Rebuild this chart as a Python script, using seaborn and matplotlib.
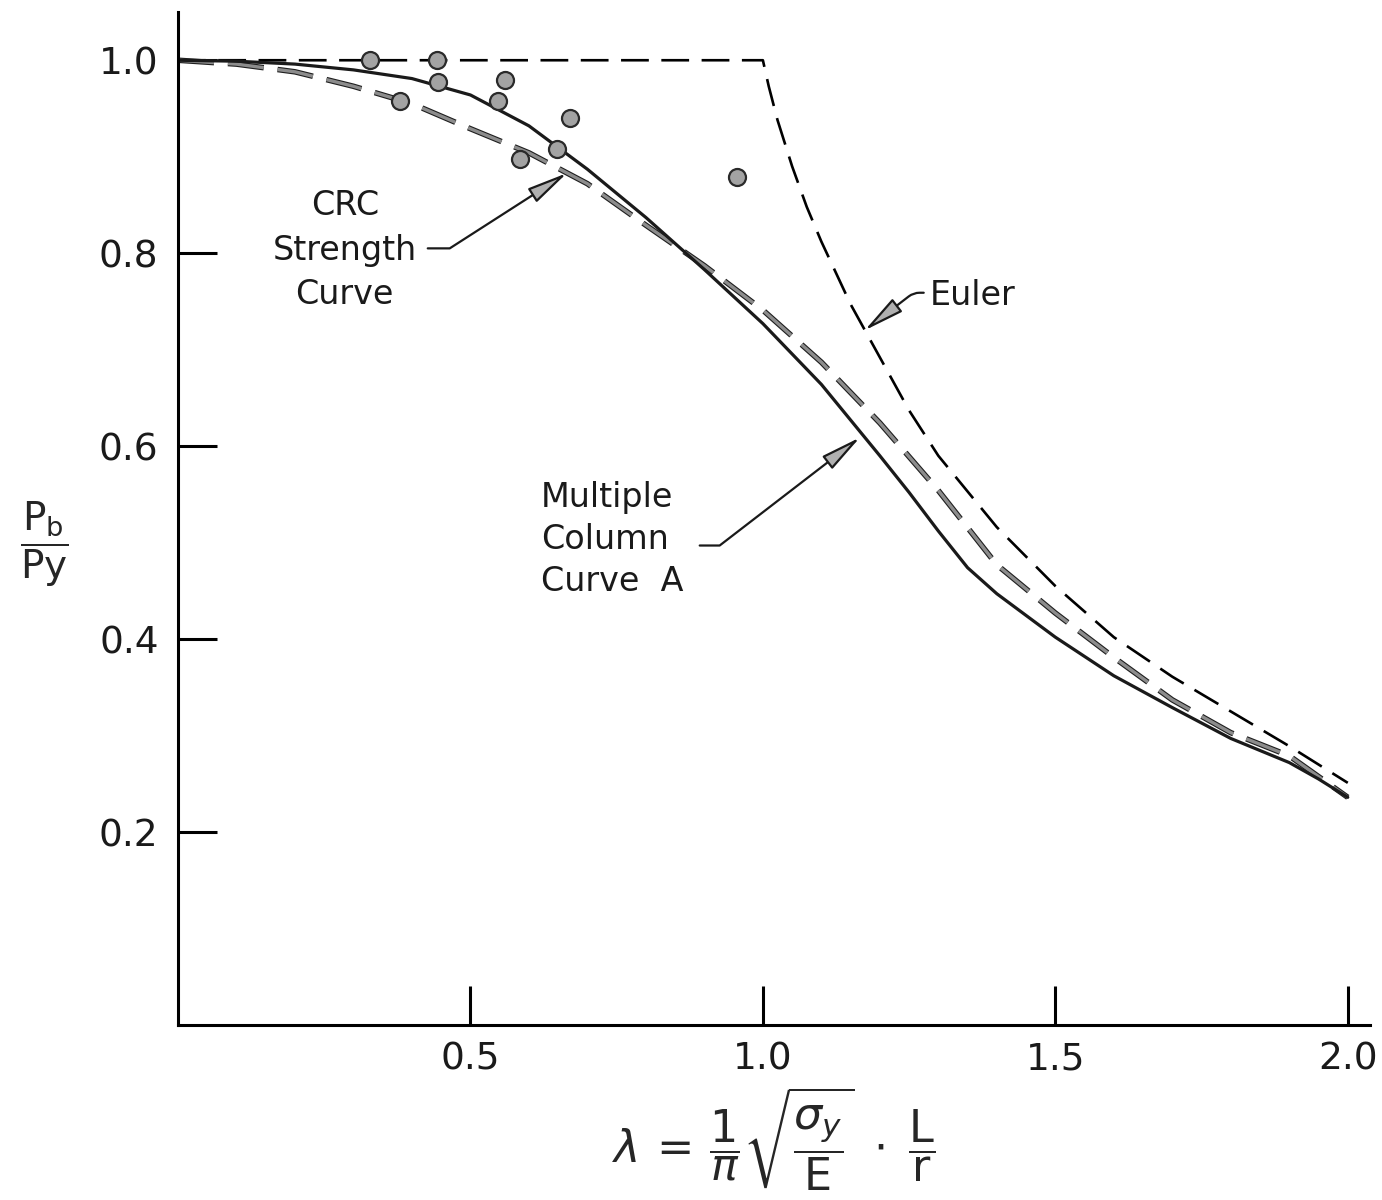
import matplotlib
matplotlib.use('Agg')
import matplotlib.pyplot as plt
import matplotlib.patheffects as pe
import numpy as np
import pandas as pd
import seaborn as sns

# ---- data ----
euler_lambda = [0.0, 1.0, 1.01, 1.025, 1.05, 1.075, 1.1, 1.15, 1.2, 1.25, 1.3, 1.4, 1.5, 1.6, 1.7, 1.8, 1.9, 2.0]
euler_ratio = [1.0, 1.0, 0.973, 0.938, 0.89, 0.848, 0.812, 0.747, 0.692, 0.637, 0.59, 0.516, 0.455, 0.402,
               0.361, 0.325, 0.289, 0.251]

crc_lambda = [0.0, 0.1, 0.2, 0.3, 0.4, 0.5, 0.6, 0.7, 0.8, 0.9, 1.0, 1.1, 1.2, 1.3, 1.4, 1.5, 1.6, 1.7, 1.8, 1.9, 2.0]
crc_ratio = [1.0, 0.996, 0.988, 0.973, 0.955, 0.929, 0.904, 0.872, 0.829, 0.787, 0.741, 0.687, 0.624, 0.554, 0.477,
             0.427, 0.381, 0.337, 0.303, 0.279, 0.236]

multi_lambda = [0.0, 0.1, 0.2, 0.3, 0.4, 0.5, 0.6, 0.7, 0.8, 0.9, 1.0, 1.1, 1.2, 1.25, 1.3, 1.35, 1.4, 1.5, 1.6,
                1.7, 1.8, 1.9, 1.95, 2.0]
multi_ratio = [1.0, 0.999, 0.996, 0.99, 0.981, 0.964, 0.932, 0.887, 0.837, 0.783, 0.727, 0.664, 0.590, 0.552,
               0.512, 0.474, 0.447, 0.402, 0.362, 0.329, 0.297, 0.272, 0.255, 0.236]

test_lambda = [0.328, 0.443, 0.444, 0.559, 0.547, 0.670, 0.648, 0.585, 0.379, 0.956]
test_ratio = [1.0, 1.0, 0.977, 0.979, 0.958, 0.940, 0.908, 0.898, 0.958, 0.879]

x_ticks = [0.5, 1.0, 1.5, 2.0]
x_ticklabels = ['0.5', '1.0', '1.5', '2.0']
y_ticks = [0.2, 0.4, 0.6, 0.8, 1.0]
y_ticklabels = ['0.2', '0.4', '0.6', '0.8', '1.0']

sns.set_theme(style='ticks')
plt.rcParams['font.family'] = ['DejaVu Sans']
plt.rcParams['mathtext.fontset'] = 'dejavusans'
plt.rcParams['lines.scale_dashes'] = False

fig = plt.figure(figsize=(13.82, 12), dpi=100)
ax = fig.add_axes([178 / 1382, 1 - 1025 / 1200, (1370 - 178) / 1382, (1025 - 12) / 1200])

# Euler curve
sns.lineplot(x=euler_lambda, y=euler_ratio, ax=ax, color='black', lw=1.9,
             linestyle=(0, (20, 9)), sort=False, estimator=None)

# CRC strength curve (long grey dashes with dark outline)
sns.lineplot(x=crc_lambda, y=crc_ratio, ax=ax, color='#8c8c8c', lw=2.4,
             linestyle=(0, (26, 10)), sort=False, estimator=None)
ax.lines[-1].set_path_effects([pe.Stroke(linewidth=4.0, foreground='#1e1e1e'), pe.Normal()])

# Multiple column curve A
sns.lineplot(x=multi_lambda, y=multi_ratio, ax=ax, color='#1a1a1a', lw=2.3,
             sort=False, estimator=None)

# test points
sns.scatterplot(x=test_lambda, y=test_ratio, ax=ax, s=150, color='#a3a3a3',
                edgecolor='#2a2a2a', linewidth=1.6, zorder=5)

ax.set_xlim(0, 2.038)
ax.set_ylim(0, 1.05)
ax.set_xticks(x_ticks)
ax.set_xticklabels(x_ticklabels)
ax.set_yticks(y_ticks)
ax.set_yticklabels(y_ticklabels)
ax.tick_params(axis='both', direction='in', length=28, width=2.2, color='black',
               labelsize=27, labelcolor='#1a1a1a', left=True, bottom=True,
               right=False, top=False)
ax.tick_params(axis='y', pad=14)
ax.tick_params(axis='x', pad=12)

for s in ['top', 'right']:
    ax.spines[s].set_visible(False)
for s in ['left', 'bottom']:
    ax.spines[s].set_color('black')
    ax.spines[s].set_linewidth(2.2)

ax.set_ylabel(r'$\dfrac{\mathrm{P}_{\mathrm{b}}}{\mathrm{Py}}$', rotation=0, fontsize=28,
              ha='center', va='center')
ax.yaxis.set_label_coords(-0.1124, 0.474)

ax.set_xlabel(r'$\lambda\,=\,\dfrac{1}{\pi}\sqrt{\dfrac{\sigma_y}{\mathrm{E}}}\;\cdot\;\dfrac{\mathrm{L}}{\mathrm{r}}$',
              fontsize=32, va='center')
ax.xaxis.set_label_coords(0.5, -0.113)

arrow_kw = dict(arrowstyle='-|>,head_length=2.5,head_width=0.5', mutation_scale=10,
                facecolor='#b0b0b0', edgecolor='#1a1a1a', lw=1.6, shrinkA=0, shrinkB=0)

ax.text(0.285, 0.803, 'CRC\nStrength\nCurve', fontsize=24, ha='center', va='center',
        multialignment='center', linespacing=1.45, color='#1a1a1a')
ax.annotate('', xy=(0.665, 0.883), xytext=(0.427, 0.805),
            arrowprops=dict(connectionstyle='angle,angleA=0,angleB=32.7,rad=0', **arrow_kw))

ax.text(1.285, 0.756, 'Euler', fontsize=24, ha='left', va='center', color='#1a1a1a')
ax.annotate('', xy=(1.174, 0.720), xytext=(1.275, 0.759),
            arrowprops=dict(connectionstyle='angle,angleA=0,angleB=37.6,rad=6', **arrow_kw))

ax.text(0.620, 0.503, 'Multiple\nColumn\nCurve  A', fontsize=24, ha='left', va='center',
        multialignment='left', linespacing=1.35, color='#1a1a1a')
ax.annotate('', xy=(1.166, 0.609), xytext=(0.892, 0.497),
            arrowprops=dict(connectionstyle='angle,angleA=0,angleB=37.6,rad=0', **arrow_kw))

fig.savefig('out.png', dpi=100, facecolor='white')
